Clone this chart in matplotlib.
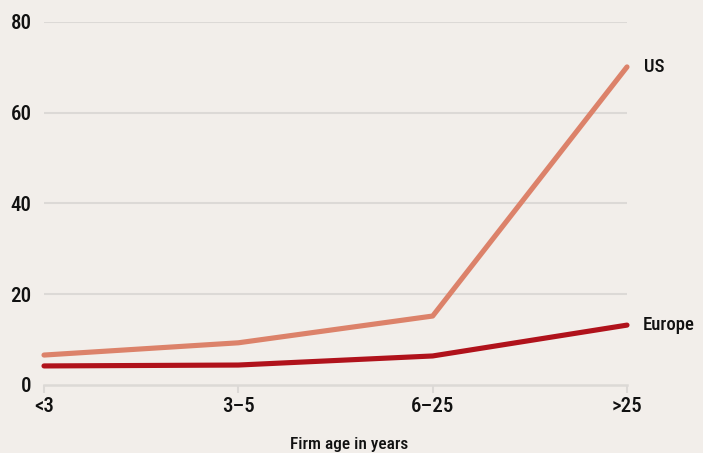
import matplotlib
matplotlib.use("Agg")
import matplotlib.pyplot as plt

categories = ["<3", "3–5", "6–25", ">25"]
us_values = [6.6, 9.3, 15.2, 70.1]
europe_values = [4.2, 4.4, 6.4, 13.2]
y_ticks = [0, 20, 40, 60, 80]

plt.rcParams["font.family"] = ["Roboto Condensed", "DejaVu Sans"]
plt.rcParams["font.weight"] = "medium"

bg = "#f2eeea"
grid_c = "#dcd9d6"
us_c = "#dc826a"
eu_c = "#b0121b"
text_c = "#111111"

W, H = 703, 453
fig = plt.figure(figsize=(W / 100, H / 100), dpi=100, facecolor=bg)
ax = fig.add_axes([44 / W, 1 - 385 / H, (627 - 44) / W, (385 - 22) / H])
ax.set_facecolor(bg)

x = list(range(len(categories)))
ax.plot(x, us_values, color=us_c, lw=3.7, solid_capstyle="round",
        solid_joinstyle="round", zorder=3, clip_on=False)
ax.plot(x, europe_values, color=eu_c, lw=3.7, solid_capstyle="round",
        solid_joinstyle="round", zorder=4, clip_on=False)

ax.set_xlim(0, len(categories) - 1)
ax.set_ylim(0, 80)
ax.set_yticks(y_ticks)
ax.set_xticks(x)
ax.set_xticklabels(categories)

for v in y_ticks[1:]:
    ax.axhline(v, color=grid_c, lw=1.5, zorder=1)

for s in ["top", "right", "left"]:
    ax.spines[s].set_visible(False)
ax.spines["bottom"].set_color(grid_c)
ax.spines["bottom"].set_linewidth(1.8)

ax.tick_params(axis="y", length=0, pad=9, labelsize=15, labelcolor=text_c)
ax.tick_params(axis="x", length=6, width=1.5, color=grid_c, pad=3,
               labelsize=15, labelcolor=text_c)

ax.annotate("US", (len(categories) - 1, us_values[-1]), xytext=(12, 0),
            textcoords="offset points", fontsize=13.5, ha="left", va="center",
            color=text_c, annotation_clip=False)
ax.annotate("Europe", (len(categories) - 1, europe_values[-1]), xytext=(11, 0),
            textcoords="offset points", fontsize=13.5, ha="left", va="center",
            color=text_c, annotation_clip=False)

fig.text(349 / W, 1 - 449 / H, "Firm age in years", fontsize=12.5,
         ha="center", va="baseline", color=text_c)

fig.savefig("out.png", dpi=100, facecolor=bg)
